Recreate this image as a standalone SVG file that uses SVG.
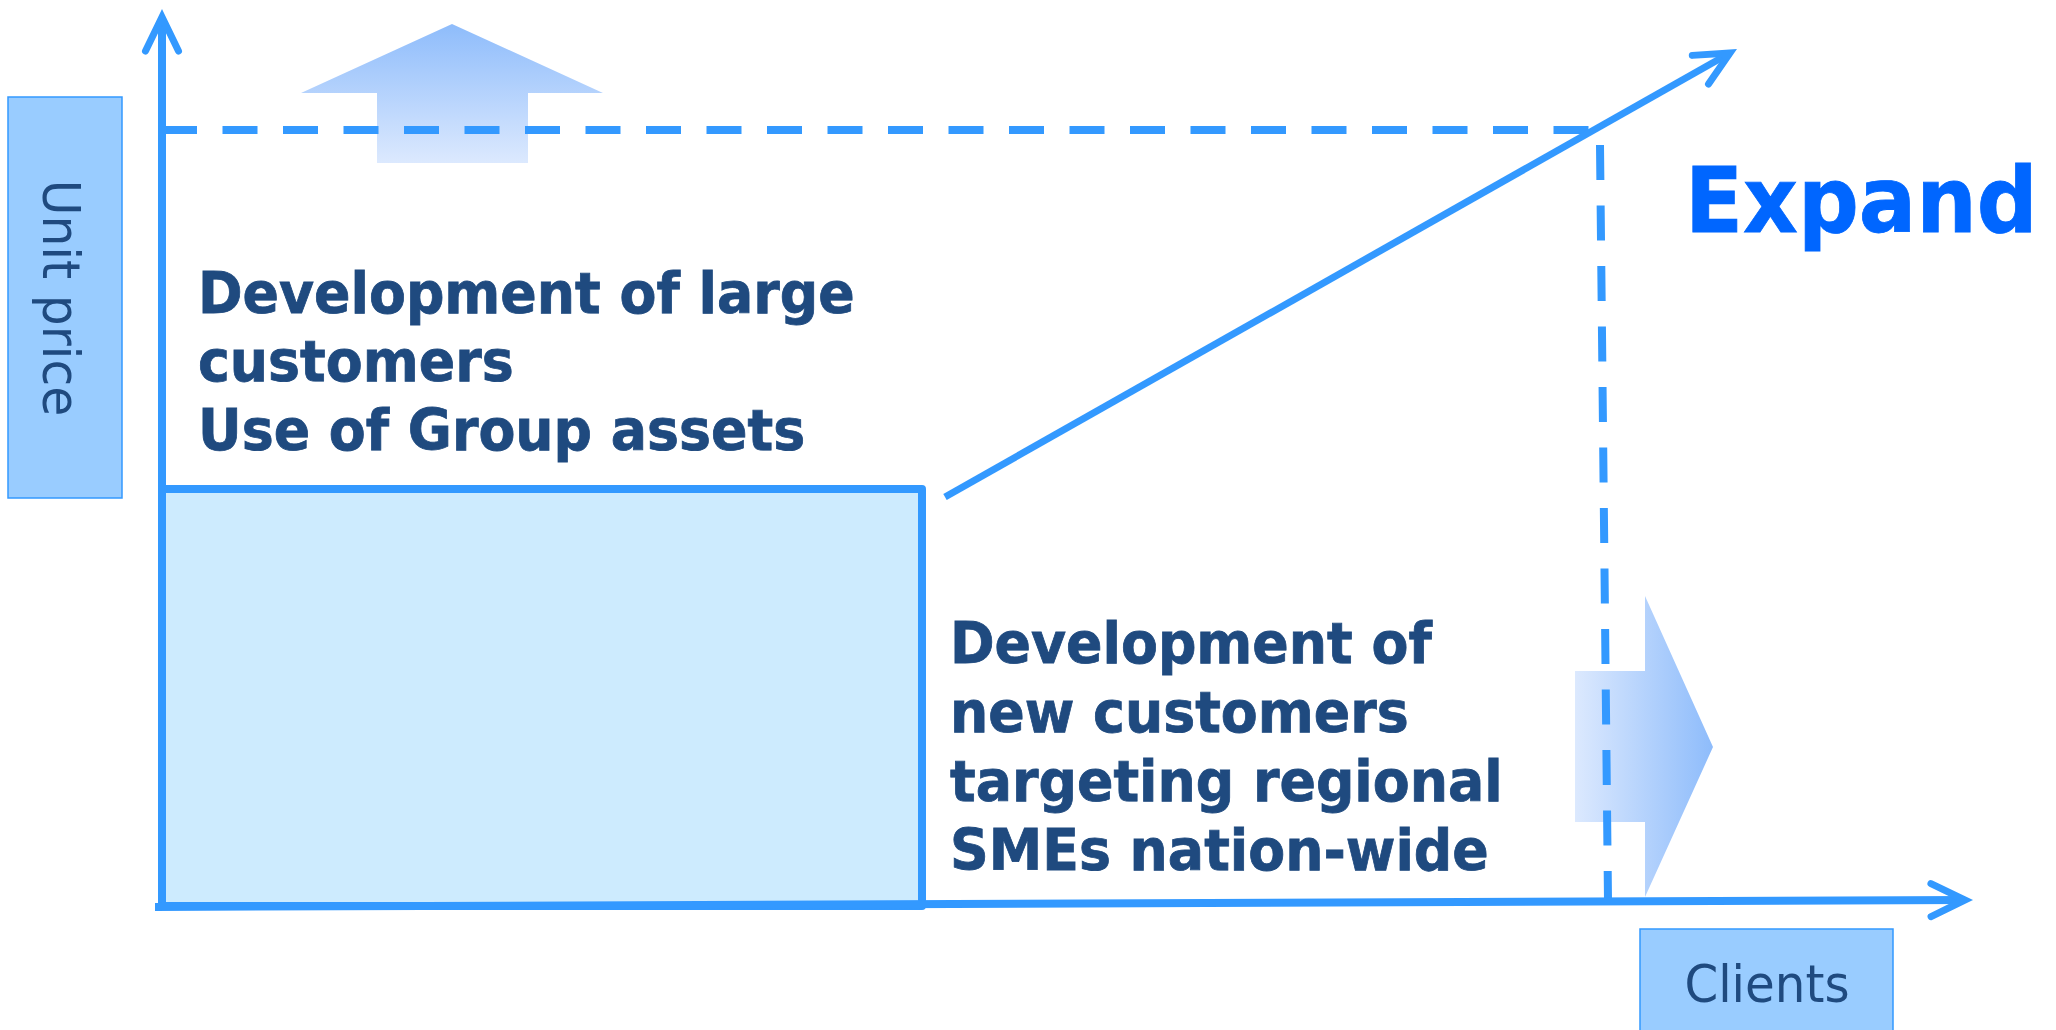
<svg xmlns="http://www.w3.org/2000/svg" width="2056" height="1030" viewBox="0 0 2056 1030">
  <defs>
    <linearGradient id="gradUp" x1="0" y1="0" x2="0" y2="1">
      <stop offset="0" stop-color="#8ebcfb"/>
      <stop offset="1" stop-color="#dce9fe"/>
    </linearGradient>
    <linearGradient id="gradRight" x1="0" y1="0" x2="1" y2="0">
      <stop offset="0" stop-color="#dce9fe"/>
      <stop offset="1" stop-color="#8ebcfb"/>
    </linearGradient>
    <marker id="chevron" markerUnits="userSpaceOnUse" viewBox="-44 -26 56 52" markerWidth="56" markerHeight="52" refX="0" refY="0" orient="auto" overflow="visible">
      <path d="M -34 -16.5 L 0 0 L -34 16.5" fill="none" stroke="#3399ff" stroke-width="7" stroke-linecap="round" stroke-linejoin="miter"/>
    </marker>
    <style>
      .label-box { fill: #99ccff; stroke: #3399ff; stroke-width: 1.5; }
      .label { font-family: "DejaVu Sans", Verdana, sans-serif; font-size: 52px; fill: #1f4a7f; }
      .body { font-family: "DejaVu Sans", Verdana, sans-serif; font-weight: bold; font-size: 56px; fill: #1f4a7f; stroke: #1f4a7f; stroke-width: 0.8; }
      .expand { font-family: "DejaVu Sans", Verdana, sans-serif; font-weight: bold; font-size: 90px; fill: #0066ff; stroke: #0066ff; stroke-width: 0.8; }
      .axis { fill: none; stroke: #3399ff; stroke-width: 8; marker-end: url(#chevron); }
      .dash { fill: none; stroke: #3399ff; stroke-width: 8; stroke-dasharray: 35 25.5; }
      .trend { fill: none; stroke: #3399ff; stroke-width: 7; marker-end: url(#chevron); }
    </style>
  </defs>

  <rect width="2056" height="1030" fill="#ffffff"/>

  <!-- Big arrows (behind the guide lines) -->
  <g id="arrow-up">
    <polygon points="452,24 603,93 528,93 528,163 377,163 377,93 301,93" fill="url(#gradUp)"/>
  </g>
  <g id="arrow-right">
    <polygon points="1575,671 1645,671 1645,596 1713,747 1645,897 1645,822 1575,822" fill="url(#gradRight)"/>
  </g>

  <!-- Current area -->
  <g id="current-area">
    <rect x="162" y="489" width="760" height="417" fill="#cdebfe" stroke="#3399ff" stroke-width="8" stroke-linejoin="round"/>
  </g>

  <!-- Axes, guides and trend -->
  <g id="connectors">
    <line class="dash" x1="162" y1="130" x2="1589" y2="130"/>
    <line class="dash" x1="1600" y1="145" x2="1608" y2="900" stroke-width="7"/>
    <line class="axis" x1="162" y1="906" x2="162" y2="17" stroke-width="7.5"/>
    <line class="axis" x1="155" y1="907" x2="1965" y2="900"/>
    <line class="trend" x1="945" y1="497" x2="1730" y2="53"/>
  </g>

  <!-- Axis labels -->
  <g id="label-unit-price">
    <rect class="label-box" x="8" y="97" width="114" height="401"/>
    <g transform="translate(43,298) rotate(90) scale(0.94,1)">
      <text class="label" x="0" y="0" text-anchor="middle">Unit price</text>
    </g>
  </g>
  <g id="label-clients">
    <rect class="label-box" x="1640" y="929" width="253" height="110"/>
    <g transform="translate(1767,1002) scale(0.93,1)">
      <text class="label" x="0" y="0" text-anchor="middle">Clients</text>
    </g>
  </g>

  <!-- Strategy notes -->
  <g id="note-large-customers" transform="translate(198,0) scale(0.96,1)">
    <text class="body" x="0" y="313">Development of large</text>
    <text class="body" x="0" y="381.5">customers</text>
    <text class="body" x="0" y="450">Use of Group assets</text>
  </g>
  <g id="note-new-customers" transform="translate(950,0) scale(0.96,1)">
    <text class="body" x="0" y="663">Development of</text>
    <text class="body" x="0" y="732">new customers</text>
    <text class="body" x="0" y="801">targeting regional</text>
    <text class="body" x="0" y="870">SMEs nation-wide</text>
  </g>
  <g id="note-expand" transform="translate(1685,232) scale(0.945,1)">
    <text class="expand" x="0" y="0">Expand</text>
  </g>
</svg>
